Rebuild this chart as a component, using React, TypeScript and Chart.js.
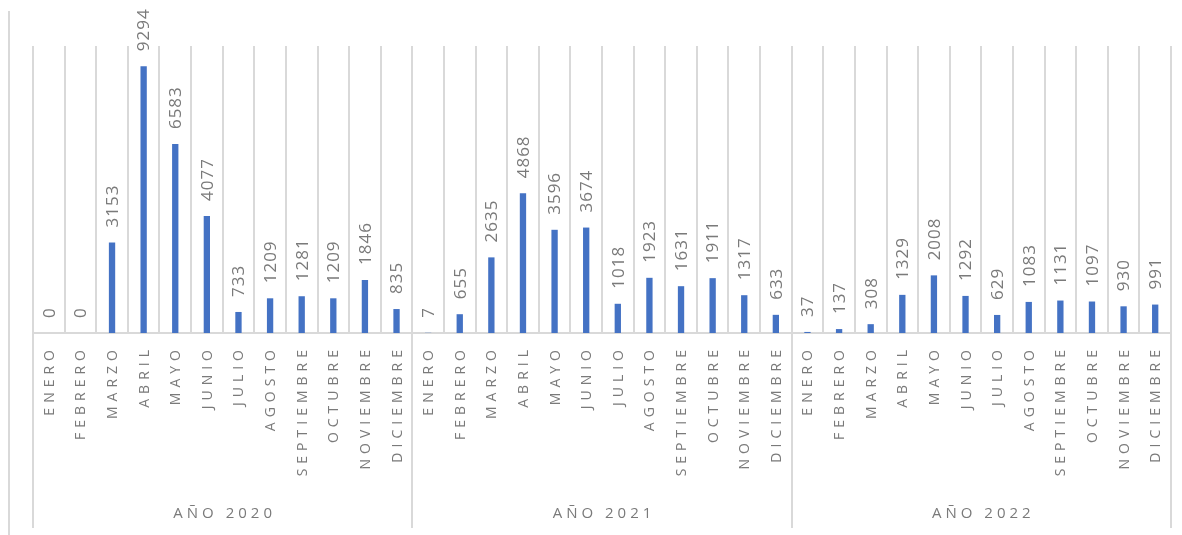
import React, { useEffect, useRef } from "react";
import { Chart, registerables } from "chart.js";

Chart.register(...registerables);

const months = [
  "ENERO", "FEBRERO", "MARZO", "ABRIL", "MAYO", "JUNIO",
  "JULIO", "AGOSTO", "SEPTIEMBRE", "OCTUBRE", "NOVIEMBRE", "DICIEMBRE",
];
const years = ["AÑO 2020", "AÑO 2021", "AÑO 2022"];

const values2020 = [0, 0, 3153, 9294, 6583, 4077, 733, 1209, 1281, 1209, 1846, 835];
const values2021 = [7, 655, 2635, 4868, 3596, 3674, 1018, 1923, 1631, 1911, 1317, 633];
const values2022 = [37, 137, 308, 1329, 2008, 1292, 629, 1083, 1131, 1097, 930, 991];

const yMax = 10000;

const BAR_COLOR = "#4472C4";
const GRID_COLOR = "#d9d9d9";
const TEXT_COLOR = "#7a7a7a";
const FONT = '"Open Sans", "DejaVu Sans", sans-serif';

const allValues = [...values2020, ...values2021, ...values2022];
const labels = years.flatMap((y) => months.map((m) => `${m} ${y}`));

function setSpacing(ctx: CanvasRenderingContext2D, px: number) {
  (ctx as any).letterSpacing = `${px}px`;
}

const labelsPlugin = {
  id: "groupedLabels",
  afterDraw(chart: any) {
    const ctx: CanvasRenderingContext2D = chart.ctx;
    const x = chart.scales.x;
    const area = chart.chartArea;
    const meta = chart.getDatasetMeta(0);
    const step = (area.right - area.left) / labels.length;

    ctx.save();

    // outer frame line on the left
    ctx.strokeStyle = GRID_COLOR;
    ctx.lineWidth = 2;
    ctx.beginPath();
    ctx.moveTo(9, 11);
    ctx.lineTo(9, 535);
    ctx.stroke();

    // year separators below the axis
    for (let k = 0; k <= years.length; k++) {
      const px = Math.round(area.left + k * months.length * step);
      ctx.beginPath();
      ctx.moveTo(px, area.bottom);
      ctx.lineTo(px, 528);
      ctx.stroke();
    }

    // value labels above bars
    ctx.fillStyle = TEXT_COLOR;
    ctx.font = `17px ${FONT}`;
    setSpacing(ctx, 1);
    ctx.textBaseline = "middle";
    ctx.textAlign = "left";
    meta.data.forEach((bar: any, i: number) => {
      ctx.save();
      ctx.translate(bar.x + 1, bar.y - 15);
      ctx.rotate(-Math.PI / 2);
      ctx.fillText(String(allValues[i]), 0, 0);
      ctx.restore();
    });

    // month labels
    ctx.font = `14px ${FONT}`;
    setSpacing(ctx, 5);
    ctx.textAlign = "right";
    labels.forEach((_, i) => {
      const px = x.getPixelForValue(i);
      ctx.save();
      ctx.translate(px + 1, 350);
      ctx.rotate(-Math.PI / 2);
      ctx.fillText(months[i % months.length], 5, 0);
      ctx.restore();
    });

    // year labels
    ctx.font = `15px ${FONT}`;
    setSpacing(ctx, 4);
    ctx.textAlign = "center";
    years.forEach((y, k) => {
      const cx = area.left + (k * months.length + months.length / 2) * step;
      ctx.fillText(y, cx + 2, 514);
    });

    ctx.restore();
  },
};

export default function App() {
  const ref = useRef<HTMLCanvasElement | null>(null);

  useEffect(() => {
    if (!ref.current) return;
    const chart = new Chart(ref.current, {
      type: "bar",
      data: {
        labels,
        datasets: [
          {
            data: allValues,
            backgroundColor: BAR_COLOR,
            borderWidth: 0,
            barPercentage: 0.2,
            categoryPercentage: 1,
          },
        ],
      },
      options: {
        responsive: false,
        animation: false,
        events: [],
        layout: { padding: { left: 33, right: 11, top: 46, bottom: 202 } },
        plugins: {
          legend: { display: false },
          tooltip: { enabled: false },
        },
        scales: {
          x: {
            type: "category",
            offset: true,
            grid: {
              display: true,
              offset: true,
              color: GRID_COLOR,
              lineWidth: 2,
              drawTicks: false,
            },
            border: { display: true, color: GRID_COLOR, width: 2 },
            ticks: { display: false },
          },
          y: {
            display: false,
            min: 0,
            max: yMax,
          },
        },
      },
      plugins: [labelsPlugin],
    });
    return () => chart.destroy();
  }, []);

  return (
    <div style={{ position: "fixed", left: 0, top: 0, width: 1182, height: 535, background: "#fff" }}>
      <canvas ref={ref} width={1182} height={535} />
    </div>
  );
}
